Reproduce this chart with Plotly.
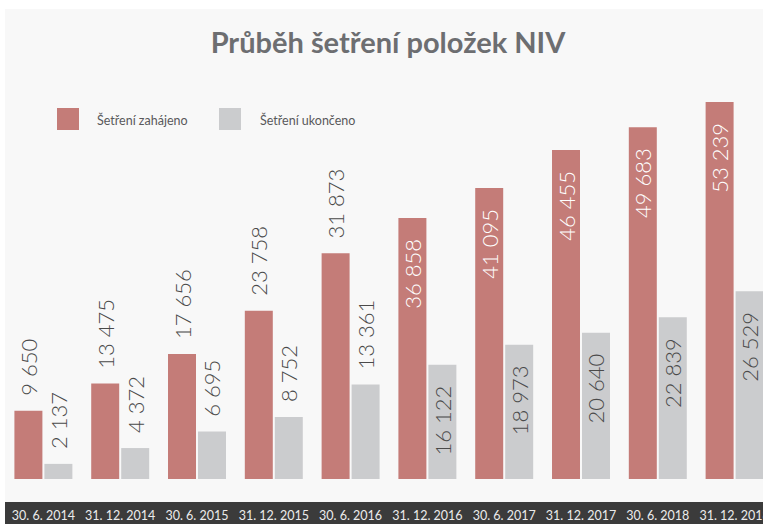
import plotly.graph_objects as go

categories = ["30. 6. 2014", "31. 12. 2014", "30. 6. 2015", "31. 12. 2015", "30. 6. 2016",
              "31. 12. 2016", "30. 6. 2017", "31. 12. 2017", "30. 6. 2018", "31. 12. 2018"]
zahajeno = [9650, 13475, 17656, 23758, 31873, 36858, 41095, 46455, 49683, 53239]
ukonceno = [2137, 4372, 6695, 8752, 13361, 16122, 18973, 20640, 22839, 26529]
series_names = ["Šetření zahájeno", "Šetření ukončeno"]
title_text = "Průběh šetření položek NIV"

RED = "#c47c78"
GREY = "#cbccce"
W, H = 763, 524
ML, MR, MT, MB = 5, 0, 60, 45
PW, PH = W - ML - MR, H - MT - MB
BASE = H - MB


def pxx(p):
    return (p - ML) / PW


def pxy(p):
    return (BASE - p) / PH


label_pos = ["outside"] * 5 + ["inside"] * 5
NB = "\u00a0"
# extra padding between the bar end and the rotated label, as in the reference
label_tpl = [NB * 2 + "%{y:,}"] * 5 + ["%{y:,}" + NB * 3] * 5
FONT = "Lato"

fig = go.Figure()
fig.add_trace(go.Bar(
    x=categories, y=zahajeno, name=series_names[0], marker=dict(color=RED, line=dict(width=0)),
    texttemplate=label_tpl, textposition=label_pos, textangle=-90, insidetextanchor="end",
    constraintext="none",
    insidetextfont=dict(family=FONT, size=22, color="white", weight=300),
    outsidetextfont=dict(family=FONT, size=22, color="#4a4a4a", weight=300),
    showlegend=False, cliponaxis=True,
))
fig.add_trace(go.Bar(
    x=categories, y=ukonceno, name=series_names[1], marker=dict(color=GREY, line=dict(width=0)),
    texttemplate=label_tpl, textposition=label_pos, textangle=-90, insidetextanchor="end",
    constraintext="none",
    insidetextfont=dict(family=FONT, size=22, color="#4a4a4a", weight=300),
    outsidetextfont=dict(family=FONT, size=22, color="#4a4a4a", weight=300),
    showlegend=False, cliponaxis=True,
))

shapes = [
    # light panel
    dict(type="rect", xref="paper", yref="paper", x0=pxx(5), x1=pxx(763), y0=pxy(502), y1=pxy(9),
         fillcolor="#f8f8f8", line=dict(width=0), layer="below"),
    # dark band under axis
    dict(type="rect", xref="paper", yref="paper", x0=pxx(5), x1=pxx(763), y0=pxy(524), y1=pxy(502),
         fillcolor="#3b3b3b", line=dict(width=0), layer="below"),
    # legend swatches
    dict(type="rect", xref="paper", yref="paper", x0=pxx(57), x1=pxx(79), y0=pxy(130), y1=pxy(108),
         fillcolor=RED, line=dict(width=0)),
    dict(type="rect", xref="paper", yref="paper", x0=pxx(219), x1=pxx(241), y0=pxy(130), y1=pxy(108),
         fillcolor=GREY, line=dict(width=0)),
]
annotations = [
    dict(text=series_names[0], xref="paper", yref="paper", x=pxx(95), y=pxy(119.5), xanchor="left",
         yanchor="middle", showarrow=False, font=dict(family=FONT, size=12.5, color="#58595b")),
    dict(text=series_names[1], xref="paper", yref="paper", x=pxx(258), y=pxy(119.5), xanchor="left",
         yanchor="middle", showarrow=False, font=dict(family=FONT, size=12.5, color="#58595b")),
]

fig.update_layout(
    width=W, height=H,
    margin=dict(l=ML, r=MR, t=MT, b=MB, pad=0, autoexpand=False),
    paper_bgcolor="white", plot_bgcolor="rgba(0,0,0,0)",
    separators=", ",
    barmode="group", bargap=0.219, bargroupgap=0.067,
    title=dict(text=title_text, x=388 / W, xanchor="center", y=1 - 43 / H, yanchor="middle",
               font=dict(family=FONT, size=29, color="#6d6e71", weight="bold")),
    shapes=shapes, annotations=annotations,
    showlegend=False,
    xaxis=dict(range=[-0.5, -0.5 + PW / 76.8], showgrid=False, zeroline=False, showline=False,
               ticks="", ticklabelstandoff=27, automargin=False,
               tickfont=dict(family=FONT, size=12.5, color="#ececec")),
    yaxis=dict(range=[0, PH / 0.00708], visible=False, showgrid=False, zeroline=False,
               automargin=False),
)

fig.write_html(
    "out.html",
    config={"displayModeBar": False},
    post_script="document.body.style.margin='0';document.body.style.overflow='hidden';",
)
